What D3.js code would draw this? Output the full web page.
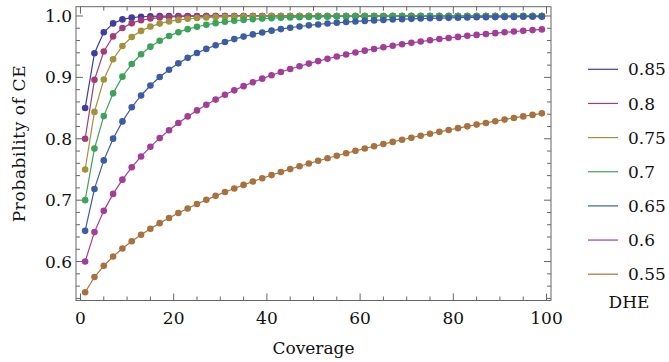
<!DOCTYPE html>
<html>
<head>
<meta charset="utf-8">
<script src="https://cdn.jsdelivr.net/npm/d3@7"></script>
<style>
  html, body { margin: 0; padding: 0; background: #fff; }
  svg { display: block; }
  text { font-family: "DejaVu Serif", serif; fill: #111; }
</style>
</head>
<body>
<svg id="chart" width="669" height="362"></svg>
<script>
// ---- data ----
const coverage = [1,3,5,7,9,11,13,15,17,19,21,23,25,27,29,31,33,35,37,39,41,43,45,47,49,51,53,55,57,59,61,63,65,67,69,71,73,75,77,79,81,83,85,87,89,91,93,95,97,99];

const dhe085 = [0.85,0.9393,0.9734,0.9879,0.9944,0.9973,0.9987,0.9994,0.9997,0.9999,
  0.9999,1,1,1,1,1,1,1,1,1,
  1,1,1,1,1,1,1,1,1,1,
  1,1,1,1,1,1,1,1,1,1,
  1,1,1,1,1,1,1,1,1,1];
const dhe080 = [0.8,0.896,0.9421,0.9667,0.9804,0.9883,0.9930,0.9958,0.9974,0.9984,
  0.9990,0.9994,0.9996,0.9998,0.9999,0.9999,0.9999,1,1,1,
  1,1,1,1,1,1,1,1,1,1,
  1,1,1,1,1,1,1,1,1,1,
  1,1,1,1,1,1,1,1,1,1];
const dhe075 = [0.75,0.8438,0.8965,0.9294,0.9511,0.9657,0.9757,0.9827,0.9876,0.9911,
  0.9936,0.9954,0.9966,0.9976,0.9982,0.9987,0.9991,0.9993,0.9995,0.9996,
  0.9997,0.9998,0.9999,0.9999,0.9999,0.9999,1,1,1,1,
  1,1,1,1,1,1,1,1,1,1,
  1,1,1,1,1,1,1,1,1,1];
const dhe070 = [0.7,0.784,0.8369,0.8740,0.9012,0.9218,0.9376,0.9500,0.9597,0.9674,
  0.9736,0.9785,0.9825,0.9857,0.9883,0.9905,0.9922,0.9936,0.9947,0.9957,
  0.9964,0.9971,0.9976,0.9980,0.9983,0.9986,0.9989,0.9991,0.9992,0.9994,
  0.9995,0.9996,0.9996,0.9997,0.9997,0.9998,0.9998,0.9998,0.9999,0.9999,
  0.9999,0.9999,0.9999,0.9999,0.9999,1,1,1,1,1];
const dhe065 = [0.65,0.7183,0.7648,0.8002,0.8283,0.8513,0.8705,0.8868,0.9006,0.9125,
  0.9228,0.9318,0.9396,0.9464,0.9524,0.9576,0.9623,0.9664,0.9700,0.9732,
  0.9761,0.9786,0.9809,0.9829,0.9847,0.9862,0.9877,0.9889,0.9901,0.9911,
  0.9920,0.9928,0.9935,0.9942,0.9948,0.9953,0.9958,0.9962,0.9966,0.9969,
  0.9972,0.9975,0.9978,0.9980,0.9982,0.9984,0.9985,0.9987,0.9988,0.9989];
const dhe060 = [0.6,0.648,0.6826,0.7102,0.7334,0.7535,0.7712,0.7869,0.8011,0.8139,
  0.8256,0.8364,0.8462,0.8554,0.8638,0.8716,0.8789,0.8857,0.8920,0.8979,
  0.9035,0.9087,0.9136,0.9181,0.9224,0.9265,0.9303,0.9339,0.9373,0.9405,
  0.9435,0.9463,0.9490,0.9516,0.9540,0.9562,0.9584,0.9604,0.9624,0.9642,
  0.9659,0.9676,0.9692,0.9706,0.9720,0.9734,0.9746,0.9759,0.9770,0.9781];
const dhe055 = [0.55,0.5748,0.5931,0.6083,0.6214,0.6331,0.6437,0.6535,0.6626,0.6710,
  0.6790,0.6865,0.6937,0.7005,0.7070,0.7132,0.7191,0.7249,0.7304,0.7357,
  0.7408,0.7458,0.7506,0.7552,0.7597,0.7641,0.7683,0.7724,0.7764,0.7803,
  0.7841,0.7878,0.7914,0.7949,0.7984,0.8017,0.8050,0.8082,0.8113,0.8143,
  0.8173,0.8202,0.8231,0.8258,0.8286,0.8312,0.8339,0.8364,0.8389,0.8414];

const seriesNames = ["0.85","0.8","0.75","0.7","0.65","0.6","0.55"];
const seriesValues = [dhe085, dhe080, dhe075, dhe070, dhe065, dhe060, dhe055];
const seriesColors = ["#3f3da2","#a23d78","#a2923d","#3da25a","#3d5da2","#a23d98","#a8723f"];

const xTicks = [0,20,40,60,80,100];
const yTicks = [0.6,0.7,0.8,0.9,1.0];
const legendTitle = "DHE";
const xTitle = "Coverage";
const yTitle = "Probability of CE";

// ---- layout ----
const svg = d3.select("#chart");
const L = 76, R = 551, T = 6.7, B = 300.5;
const x = d3.scaleLinear().domain([-0.96, 100.96]).range([L, R]);
const y = d3.scaleLinear().domain([0.5366, 1.0151]).range([B, T]);

const frameColor = "#666";

// minor tick values
const xMinor = d3.range(0, 101, 5).filter(v => !xTicks.includes(v));
const yMinor = d3.range(54, 101, 2).map(v => v / 100).filter(v => !yTicks.some(t => Math.abs(t - v) < 1e-9) && v <= 1.01);

const frame = svg.append("g");
frame.append("rect").attr("x", L).attr("y", T).attr("width", R - L).attr("height", B - T)
  .attr("fill", "none").attr("stroke", frameColor).attr("stroke-width", 1);

function ticks(g, vals, len, horiz) {
  vals.forEach(v => {
    if (horiz) {
      const px = x(v);
      g.append("line").attr("x1", px).attr("x2", px).attr("y1", B).attr("y2", B - len).attr("stroke", frameColor);
      g.append("line").attr("x1", px).attr("x2", px).attr("y1", T).attr("y2", T + len).attr("stroke", frameColor);
    } else {
      const py = y(v);
      g.append("line").attr("x1", L).attr("x2", L + len).attr("y1", py).attr("y2", py).attr("stroke", frameColor);
      g.append("line").attr("x1", R).attr("x2", R - len).attr("y1", py).attr("y2", py).attr("stroke", frameColor);
    }
  });
}
ticks(frame, xTicks, 7, true);
ticks(frame, xMinor, 4, true);
ticks(frame, yTicks, 7, false);
ticks(frame, yMinor, 4, false);

// tick labels
svg.append("g").selectAll("text").data(xTicks).join("text")
  .attr("x", d => x(d)).attr("y", 324).attr("text-anchor", "middle")
  .attr("font-size", 17).text(d => d);
svg.append("g").selectAll("text").data(yTicks).join("text")
  .attr("x", 72).attr("y", d => y(d)).attr("dy", "0.36em").attr("text-anchor", "end")
  .attr("font-size", 17).text(d => d3.format(".1f")(d));

// axis titles
svg.append("text").attr("x", (L + R) / 2).attr("y", 354).attr("text-anchor", "middle")
  .attr("font-size", 17).text(xTitle);
svg.append("text").attr("transform", `translate(25,143.5) rotate(-90)`)
  .attr("text-anchor", "middle").attr("font-size", 17).attr("letter-spacing", 0.6).text(yTitle);

// series
const line = d3.line().x((d, i) => x(coverage[i])).y(d => y(d));
seriesValues.forEach((vals, si) => {
  const g = svg.append("g");
  g.append("path").attr("d", line(vals)).attr("fill", "none")
    .attr("stroke", seriesColors[si]).attr("stroke-width", 1.2);
  g.selectAll("circle").data(vals).join("circle")
    .attr("cx", (d, i) => x(coverage[i])).attr("cy", d => y(d)).attr("r", 3.3)
    .attr("fill", seriesColors[si]);
});

// legend
const lg = svg.append("g");
seriesNames.forEach((name, i) => {
  const ly = 69.3 + i * 34.15;
  lg.append("line").attr("x1", 588).attr("x2", 618).attr("y1", ly).attr("y2", ly)
    .attr("stroke", seriesColors[i]).attr("stroke-width", 1.2);
  lg.append("text").attr("x", 628).attr("y", ly).attr("dy", "0.36em")
    .attr("font-size", 17).text(name);
});
lg.append("text").attr("x", 629).attr("y", 308).attr("text-anchor", "middle")
  .attr("font-size", 17).text(legendTitle);
</script>
</body>
</html>
